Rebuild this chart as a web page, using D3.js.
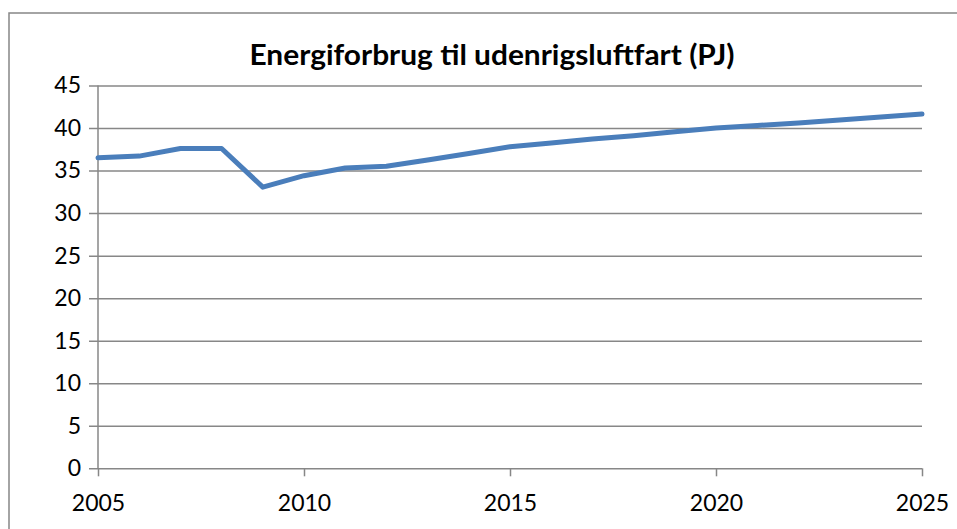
<!DOCTYPE html>
<html>
<head>
<meta charset="utf-8">
<script src="https://cdn.jsdelivr.net/npm/d3@7"></script>
<style>
  html, body { margin: 0; padding: 0; background: #fff; }
  svg { display: block; font-family: Lato, "Open Sans", sans-serif; }
</style>
</head>
<body>
<div id="chart"></div>
<script>
const years = [2005, 2006, 2007, 2008, 2009, 2010, 2011, 2012, 2013, 2014, 2015,
               2016, 2017, 2018, 2019, 2020, 2021, 2022, 2023, 2024, 2025];
const energy = [36.5, 36.7, 37.6, 37.6, 33.05, 34.4, 35.3, 35.5, 36.25, 37.0, 37.8,
                38.25, 38.7, 39.1, 39.55, 40.0, 40.3, 40.6, 40.95, 41.3, 41.65];
const xTicks = [2005, 2010, 2015, 2020, 2025];
const yTicks = [0, 5, 10, 15, 20, 25, 30, 35, 40, 45];
const title = 'Energiforbrug til udenrigsluftfart (PJ)';

const width = 957;
const height = 529;
const margin = { top: 85.5, right: 35, bottom: 60.7, left: 98 };

const svg = d3.select('#chart')
  .append('svg')
  .attr('width', width)
  .attr('height', height);

// outer chart border
svg.append('rect')
  .attr('x', 9)
  .attr('y', 13)
  .attr('width', 960)
  .attr('height', 540)
  .attr('fill', 'none')
  .attr('stroke', '#878787')
  .attr('stroke-width', 1.5);

const x = d3.scaleLinear()
  .domain([2005, 2025])
  .range([margin.left, width - margin.right]);

const y = d3.scaleLinear()
  .domain([0, 45])
  .range([height - margin.bottom, margin.top]);

// gridlines + y axis
const yAxis = d3.axisLeft(y)
  .tickValues(yTicks)
  .tickSize(-(x.range()[1] - x.range()[0]) - 9)
  .tickPadding(8)
  .tickFormat(d3.format('d'));

svg.append('g')
  .attr('transform', `translate(${margin.left - 9},0)`)
  .call(yAxis)
  .call(g => g.select('.domain').remove())
  .call(g => g.selectAll('.tick line')
    .attr('x1', 0)
    .attr('x2', x.range()[1] - x.range()[0] + 9)
    .attr('stroke', '#878787')
    .attr('stroke-width', 1.5))
  .call(g => g.selectAll('.tick text')
    .attr('x', -8)
    .attr('font-size', 23)
    .attr('font-family', 'Lato, sans-serif')
    .attr('fill', '#000'));

// y axis line
svg.append('line')
  .attr('x1', x(2005)).attr('x2', x(2005))
  .attr('y1', y(45)).attr('y2', y(0))
  .attr('stroke', '#878787')
  .attr('stroke-width', 1.5);

// x axis
const xAxis = d3.axisBottom(x)
  .tickValues(xTicks)
  .tickSize(8)
  .tickPadding(18)
  .tickFormat(d3.format('d'));

svg.append('g')
  .attr('transform', `translate(0,${y(0)})`)
  .call(xAxis)
  .call(g => g.select('.domain').remove())
  .call(g => g.selectAll('.tick line')
    .attr('stroke', '#878787')
    .attr('stroke-width', 1.5))
  .call(g => g.selectAll('.tick text')
    .attr('font-size', 23)
    .attr('font-family', 'Lato, sans-serif')
    .attr('fill', '#000'));

// series
const line = d3.line()
  .x((d, i) => x(years[i]))
  .y(d => y(d));

svg.append('path')
  .datum(energy)
  .attr('d', line)
  .attr('fill', 'none')
  .attr('stroke', '#4a7ebb')
  .attr('stroke-width', 5)
  .attr('stroke-linejoin', 'round')
  .attr('stroke-linecap', 'round');

svg.append('text')
  .attr('x', 492)
  .attr('y', 65)
  .attr('text-anchor', 'middle')
  .attr('font-size', 29)
  .attr('font-weight', 'bold')
  .attr('font-family', 'Lato, sans-serif')
  .attr('textLength', 485)
  .attr('lengthAdjust', 'spacingAndGlyphs')
  .text(title);
</script>
</body>
</html>
